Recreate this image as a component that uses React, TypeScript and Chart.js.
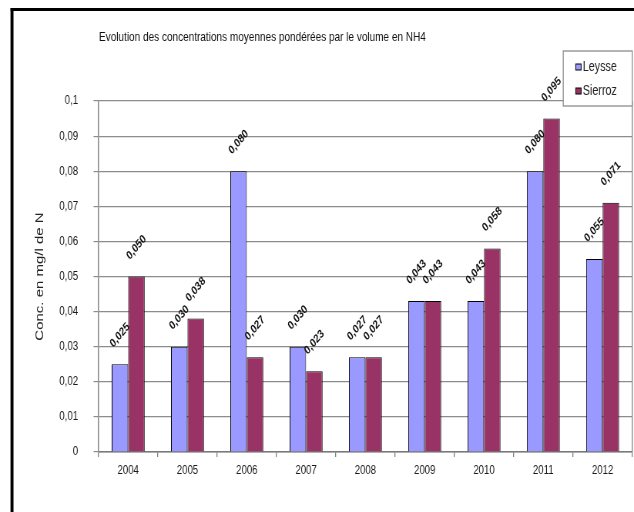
import React, { useEffect, useRef } from "react";
import { Chart, registerables } from "chart.js";

Chart.register(...registerables);

// ---- data ----
const categories = ["2004", "2005", "2006", "2007", "2008", "2009", "2010", "2011", "2012"];
const seriesNames = ["Leysse", "Sierroz"];
const leysse = [0.025, 0.03, 0.08, 0.03, 0.027, 0.043, 0.043, 0.08, 0.055];
const sierroz = [0.05, 0.038, 0.027, 0.023, 0.027, 0.043, 0.058, 0.095, 0.071];
const seriesColors = ["#9999FF", "#993366"];
const yMin = 0;
const yMax = 0.1;
const yStep = 0.01;
const chartTitle = "Evolution des concentrations moyennes pondérées par le volume en NH4";
const yAxisTitle = "Conc. en mg/l de N";

// ---- layout (canvas is drawn wider and squeezed horizontally like the original) ----
const DISPLAY_W = 634;
const DISPLAY_H = 512;
const SQUEEZE = 0.77;
const W = Math.round(DISPLAY_W / SQUEEZE);
const H = DISPLAY_H;
const lx = (px: number) => px / SQUEEZE;

const FONT = "'Liberation Sans', Arial, sans-serif";

const fmtTick = (v: number) => parseFloat(v.toFixed(3)).toString().replace(".", ",");
const fmtLabel = (v: number) => v.toFixed(3).replace(".", ",");

const decorPlugin = {
  id: "decor",
  afterDraw(chart: any) {
    const ctx = chart.ctx;
    const area = chart.chartArea;
    ctx.save();
    // frame
    ctx.fillStyle = "#000";
    ctx.fillRect(lx(10.5), 8, W, 3);
    ctx.fillRect(lx(10.5), 8, lx(3), H);

    // right plot border
    ctx.strokeStyle = "#8c8c8c";
    ctx.lineWidth = 1.4;
    ctx.beginPath();
    ctx.moveTo(area.right, area.top);
    ctx.lineTo(area.right, area.bottom);
    ctx.stroke();

    // title
    ctx.fillStyle = "#111";
    ctx.font = `13px ${FONT}`;
    ctx.textAlign = "left";
    ctx.textBaseline = "alphabetic";
    ctx.fillText(chartTitle, lx(99), 41);

    // data labels
    ctx.font = `bold 12px ${FONT}`;
    ctx.textAlign = "center";
    ctx.textBaseline = "middle";
    chart.data.datasets.forEach((ds: any, di: number) => {
      const meta = chart.getDatasetMeta(di);
      meta.data.forEach((el: any, i: number) => {
        ctx.save();
        ctx.translate(el.x, el.y - 29);
        ctx.rotate((-43 * Math.PI) / 180);
        ctx.fillText(fmtLabel(ds.data[i]), 0, 0);
        ctx.restore();
      });
    });

    // legend
    const bx = lx(563);
    const by = 51;
    const bw = lx(632) - lx(563);
    const bh = 55;
    ctx.fillStyle = "#fff";
    ctx.fillRect(bx, by, bw, bh);
    ctx.strokeStyle = "#8c8c8c";
    ctx.lineWidth = 1.3;
    ctx.strokeRect(bx, by, bw, bh);
    ctx.font = `14px ${FONT}`;
    ctx.textAlign = "left";
    ctx.textBaseline = "middle";
    chart.data.datasets.forEach((ds: any, di: number) => {
      const cy = di === 0 ? 67 : 91;
      ctx.fillStyle = ds.backgroundColor;
      ctx.fillRect(lx(575.5), cy - 3, 7, 6);
      ctx.strokeStyle = "#000";
      ctx.lineWidth = 1;
      ctx.strokeRect(lx(575.5), cy - 3, 7, 6);
      ctx.fillStyle = "#222";
      ctx.fillText(ds.label, lx(582.5), cy);
    });
    ctx.restore();
  },
};

export default function App() {
  const canvasRef = useRef<HTMLCanvasElement | null>(null);

  useEffect(() => {
    const canvas = canvasRef.current;
    if (!canvas) return;
    const chart = new Chart(canvas, {
      type: "bar",
      data: {
        labels: categories,
        datasets: [
          {
            label: seriesNames[0],
            data: leysse,
            backgroundColor: seriesColors[0],
            borderColor: "#000",
            borderWidth: 1,
            categoryPercentage: 0.556,
            barPercentage: 1,
          },
          {
            label: seriesNames[1],
            data: sierroz,
            backgroundColor: seriesColors[1],
            borderColor: "#000",
            borderWidth: 1,
            categoryPercentage: 0.556,
            barPercentage: 1,
          },
        ],
      },
      options: {
        animation: false,
        responsive: false,
        devicePixelRatio: 1,
        layout: { padding: { top: 101, right: W - lx(632), bottom: 0, left: 0 } },
        plugins: {
          legend: { display: false },
          title: { display: false },
          tooltip: { enabled: false },
        },
        scales: {
          x: {
            offset: true,
            grid: {
              display: true,
              offset: true,
              drawOnChartArea: false,
              drawTicks: true,
              tickLength: 5,
              color: "#808080",
              lineWidth: 1.3,
            },
            border: { display: true, color: "#7a7a7a", width: 1.5 },
            ticks: {
              color: "#1a1a1a",
              font: { family: FONT, size: 12.5 },
              padding: 6,
              maxRotation: 0,
              autoSkip: false,
            },
            afterFit: (s: any) => {
              s.height = H - 452;
            },
          },
          y: {
            min: yMin,
            max: yMax,
            ticks: {
              stepSize: yStep,
              color: "#1a1a1a",
              font: { family: FONT, size: 12.5 },
              padding: 20,
              callback: (v: any) => fmtTick(Number(v)),
            },
            grid: {
              color: "#8c8c8c",
              lineWidth: 1.2,
              tickLength: lx(5),
              drawTicks: true,
            },
            border: { display: true, color: "#8c8c8c", width: 1.6 },
            title: {
              display: true,
              text: yAxisTitle,
              color: "#222",
              font: { family: FONT, size: 15 },
              padding: { top: lx(40) - 9, bottom: 0 },
            },
            afterFit: (s: any) => {
              s.width = lx(98.5);
            },
          },
        },
      },
      plugins: [decorPlugin],
    });
    return () => chart.destroy();
  }, []);

  return (
    <canvas
      ref={canvasRef}
      width={W}
      height={H}
      style={{
        position: "absolute",
        left: 0,
        top: 0,
        width: `${DISPLAY_W}px`,
        height: `${DISPLAY_H}px`,
        display: "block",
        background: "#fff",
      }}
    />
  );
}
